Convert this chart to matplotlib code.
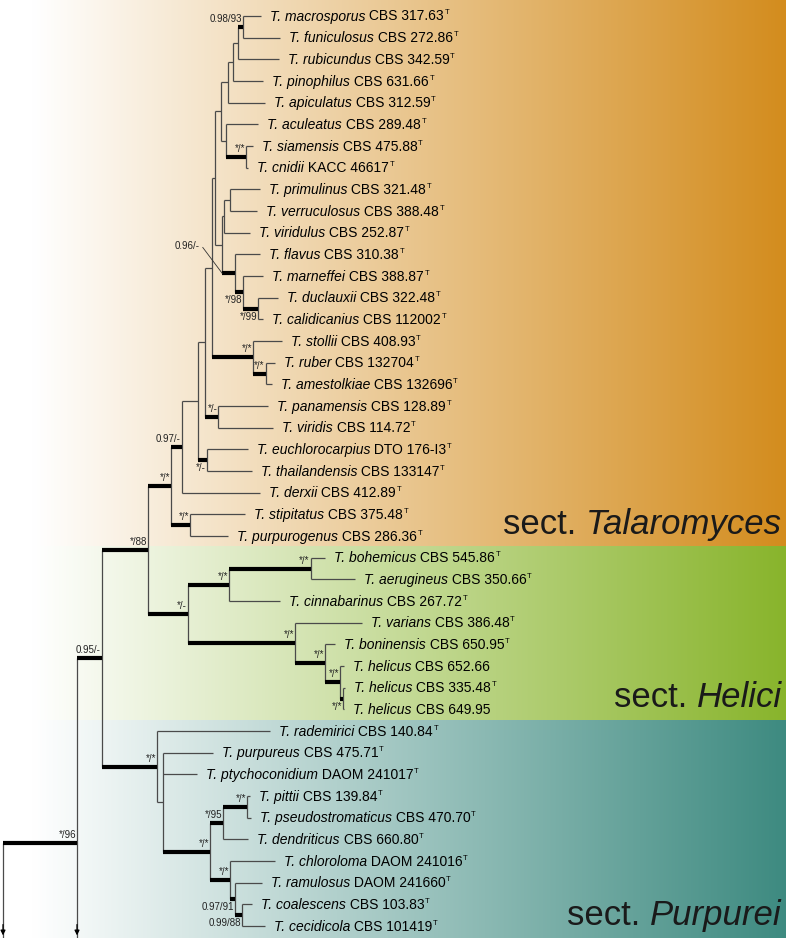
import matplotlib
matplotlib.use("Agg")
import matplotlib.pyplot as plt
import numpy as np
from matplotlib import transforms

plt.rcParams['font.family'] = ['Liberation Sans', 'DejaVu Sans']

# ---------------- data ----------------
species = [
    "T. macrosporus", "T. funiculosus", "T. rubicundus", "T. pinophilus", "T. apiculatus",
    "T. aculeatus", "T. siamensis", "T. cnidii", "T. primulinus", "T. verruculosus",
    "T. viridulus", "T. flavus", "T. marneffei", "T. duclauxii", "T. calidicanius",
    "T. stollii", "T. ruber", "T. amestolkiae", "T. panamensis", "T. viridis",
    "T. euchlorocarpius", "T. thailandensis", "T. derxii", "T. stipitatus", "T. purpurogenus",
    "T. bohemicus", "T. aerugineus", "T. cinnabarinus", "T. varians", "T. boninensis",
    "T. helicus", "T. helicus", "T. helicus",
    "T. rademirici", "T. purpureus", "T. ptychoconidium", "T. pittii", "T. pseudostromaticus",
    "T. dendriticus", "T. chloroloma", "T. ramulosus", "T. coalescens", "T. cecidicola"]
strains = [
    "CBS 317.63", "CBS 272.86", "CBS 342.59", "CBS 631.66", "CBS 312.59",
    "CBS 289.48", "CBS 475.88", "KACC 46617", "CBS 321.48", "CBS 388.48",
    "CBS 252.87", "CBS 310.38", "CBS 388.87", "CBS 322.48", "CBS 112002",
    "CBS 408.93", "CBS 132704", "CBS 132696", "CBS 128.89", "CBS 114.72",
    "DTO 176-I3", "CBS 133147", "CBS 412.89", "CBS 375.48", "CBS 286.36",
    "CBS 545.86", "CBS 350.66", "CBS 267.72", "CBS 386.48", "CBS 650.95",
    "CBS 652.66", "CBS 335.48", "CBS 649.95",
    "CBS 140.84", "CBS 475.71", "DAOM 241017", "CBS 139.84", "CBS 470.70",
    "CBS 660.80", "DAOM 241016", "DAOM 241660", "CBS 103.83", "CBS 101419"]
type_strain = [1] * 30 + [0, 1, 0] + [1] * 10

# truncated outgroup lineages (rows below the visible tips)
outgroup_rows = {"og1": 46.7, "og2": 60.0}

# internal nodes: name, children, branch lengths to the children
clades = [
    ("MF", ["t0", "t1"], [17.7, 36.7]),
    ("M1", ["MF", "t2"], [5.6, 41.0]),
    ("M2", ["M1", "t3"], [5.0, 30.6]),
    ("M3", ["M2", "t4"], [4.4, 36.7]),
    ("SC", ["t6", "t7"], [6.7, 2.3]),
    ("N", ["t5", "SC"], [32.6, 20.3]),
    ("M4", ["M3", "N"], [7.3, 4.7]),
    ("PV", ["t8", "t9"], [30.0, 27.0]),
    ("P1", ["PV", "t10"], [6.3, 26.3]),
    ("R", ["t13", "t14"], [19.4, 4.7]),
    ("Q", ["t12", "R"], [20.0, 15.0]),
    ("F1", ["t11", "Q"], [25.0, 8.3]),
    ("P2", ["P1", "F1"], [2.0, 13.3]),
    ("M5", ["M4", "P2"], [6.5, 7.2]),
    ("RA", ["t16", "t17"], [9.3, 6.0]),
    ("J", ["t15", "RA"], [28.7, 12.7]),
    ("S1", ["M5", "J"], [2.8, 41.3]),
    ("K", ["t18", "t19"], [50.0, 55.0]),
    ("H", ["S1", "K"], [6.7, 13.3]),
    ("I", ["t20", "t21"], [41.3, 45.0]),
    ("G", ["H", "I"], [7.3, 9.0]),
    ("E", ["G", "t22"], [16.0, 78.3]),
    ("F", ["t23", "t24"], [55.0, 38.0]),
    ("D", ["E", "F"], [10.7, 19.0]),
    ("V", ["t25", "t26"], [14.3, 44.3]),
    ("T", ["V", "t27"], [81.7, 51.0]),
    ("Y", ["t31", "t32"], [1.5, 1.0]),
    ("X", ["t30", "Y"], [4.0, 3.3]),
    ("W", ["t29", "X"], [10.0, 15.0]),
    ("U", ["t28", "W"], [66.7, 30.0]),
    ("Hc", ["T", "U"], [41.0, 107.0]),
    ("C", ["D", "Hc"], [23.0, 40.0]),
    ("AD", ["t36", "t37"], [2.7, 3.7]),
    ("AB", ["AD", "t38"], [24.0, 25.0]),
    ("AF", ["t41", "t42"], [10.0, 23.3]),
    ("AE", ["t40", "AF"], [26.7, 6.7]),
    ("AC", ["t39", "AE"], [45.0, 5.0]),
    ("AA", ["AB", "AC"], [13.3, 20.0]),
    ("Z", ["t34", "t35", "AA"], [50.0, 33.4, 46.7]),
    ("Pu", ["t33", "Z"], [113.0, 6.3]),
    ("B", ["C", "Pu"], [46.0, 55.0]),
    ("A", ["B", "og1"], [25.0, 0.0]),
    ("root", ["A", "og2"], [74.0, 0.0]),
]

# support values (PP/BS) and where they sit relative to the node
support = {
    "MF": "0.98/93", "SC": "*/*", "F1": "0.96/-", "Q": "*/98", "R": "*/99",
    "J": "*/*", "RA": "*/*", "K": "*/-", "I": "*/-", "E": "0.97/-", "D": "*/*",
    "F": "*/*", "C": "*/88", "Hc": "*/-", "T": "*/*", "V": "*/*", "U": "*/*",
    "W": "*/*", "X": "*/*", "Y": "*/*", "B": "0.95/-", "A": "*/96", "Pu": "*/*",
    "AA": "*/*", "AB": "*/95", "AD": "*/*", "AC": "*/*", "AE": "0.97/91",
    "AF": "0.99/88"}
support_below = ["Q", "R", "I", "Y", "AE", "AF"]
support_leader = ["F1"]

sections = ["Talaromyces", "Helici", "Purpurei"]
section_rows = [(0, 24), (25, 32), (33, 42)]
section_colors = ["#D38C1D", "#88B42B", "#3D8A80"]

# ---------------- layout ----------------
W, H = 786, 938
fig = plt.figure(figsize=(W / 100, H / 100), dpi=100)
ax = fig.add_axes([0, 0, 1, 1])
row_px = 21.67
top_px = 16.0
x0_px = 3.0
ax.set_xlim(-x0_px, W - x0_px)
ax.set_ylim((H - top_px) / row_px, -top_px / row_px)
ax.axis("off")

# ---------------- tree geometry ----------------
children = {c[0]: c[1] for c in clades}
blen = {}
for name, ch, ln in clades:
    for c, l in zip(ch, ln):
        blen[c] = l

X, Y = {}, {}


def place(node, x):
    X[node] = x
    if node in children:
        ys = [place(c, x + blen[c]) for c in children[node]]
        Y[node] = (ys[0] + ys[-1]) / 2.0
    elif node in outgroup_rows:
        Y[node] = outgroup_rows[node]
    else:
        Y[node] = float(int(node[1:]))
    return Y[node]


place("root", 0.0)
parent = {c: p for p, ch, _ in clades for c in ch}

# ---------------- background bands ----------------
xs = np.linspace(-x0_px, W - x0_px, 400)
frac = np.clip((xs - 30) / (W - 30), 0, 1)
row_edges = []
for k, (r0, r1) in enumerate(section_rows):
    lo = r0 - 0.5 if k > 0 else -top_px / row_px
    hi = r1 + 0.5 if k < len(section_rows) - 1 else (H - top_px) / row_px
    col = np.array(matplotlib.colors.to_rgb(section_colors[k]))
    grad = 1 - frac[:, None] * (1 - col[None, :])
    ax.imshow(grad[None, :, :], extent=(-x0_px, W - x0_px, hi, lo),
              aspect="auto", zorder=0, interpolation="bilinear")
    row_edges.append((lo, hi))
ax.set_xlim(-x0_px, W - x0_px)
ax.set_ylim((H - top_px) / row_px, -top_px / row_px)

# ---------------- branches ----------------
thin_c = "#4a4a4a"
for node in X:
    if node == "root":
        continue
    p = parent[node]
    if X[node] > X[p]:
        thick = node in support
        ax.plot([X[p], X[node]], [Y[node], Y[node]],
                color="black" if thick else thin_c,
                lw=3.0 if thick else 0.9, solid_capstyle="butt", zorder=3)
for node, ch, _ in clades:
    ys = [Y[c] for c in ch]
    ax.plot([X[node], X[node]], [min(ys), max(ys)], color=thin_c, lw=0.9,
            solid_capstyle="butt", zorder=2)

# truncated outgroup arrows
ybot = (H - top_px) / row_px - 0.12
for node in ["root", "A"]:
    ax.annotate("", xy=(X[node], ybot), xytext=(X[node], ybot - 0.5),
                arrowprops=dict(arrowstyle="-|>", color="black", lw=0.9,
                                mutation_scale=7, shrinkA=0, shrinkB=0),
                zorder=4)

# ---------------- support labels ----------------
for node, txt in support.items():
    if node in support_leader:
        tr = transforms.offset_copy(ax.transData, fig=fig, x=-22, y=27, units="dots")
        ax.text(X[parent[node]], Y[node], txt, transform=tr, ha="right",
                va="center", fontsize=7, color="#222222", zorder=5)
        ax.annotate("", xy=(X[parent[node]] + 0.5, Y[node]),
                    xytext=(X[parent[node]] - 19, Y[node] - 26 / row_px),
                    arrowprops=dict(arrowstyle="-", color="#333333", lw=0.6,
                                    shrinkA=0, shrinkB=0))
        continue
    if node in support_below:
        tr = transforms.offset_copy(ax.transData, fig=fig, x=-1, y=-3, units="dots")
        va = "top"
    else:
        tr = transforms.offset_copy(ax.transData, fig=fig, x=-1, y=3, units="dots")
        va = "bottom"
    ax.text(X[node], Y[node], txt, transform=tr, ha="right", va=va,
            fontsize=7, color="#222222", zorder=5)

# ---------------- tip labels ----------------
fig.canvas.draw()
rend = fig.canvas.get_renderer()
inv = ax.transData.inverted()
FS = 10
for i, (sp, st, ty) in enumerate(zip(species, strains, type_strain)):
    node = "t%d" % i
    base = transforms.offset_copy(ax.transData, fig=fig, x=9, y=-4.5, units="dots")
    t1 = ax.text(X[node], Y[node], sp, style="italic", fontsize=FS,
                 transform=base, ha="left", va="baseline", zorder=5)
    bb = t1.get_window_extent(rend)
    xd = inv.transform((bb.x1, 0))[0]
    base2 = transforms.offset_copy(ax.transData, fig=fig, x=0, y=-4.5, units="dots")
    t2 = ax.text(xd, Y[node], " " + st, fontsize=FS, transform=base2,
                 ha="left", va="baseline", zorder=5)
    if ty:
        bb2 = t2.get_window_extent(rend)
        xd2 = inv.transform((bb2.x1, 0))[0]
        base3 = transforms.offset_copy(ax.transData, fig=fig, x=0.5, y=1.5, units="dots")
        ax.text(xd2, Y[node], "T", fontsize=5.5, transform=base3,
                ha="left", va="baseline", zorder=5)

# ---------------- section labels ----------------
fig.canvas.draw()
for k, name in enumerate(sections):
    lo, hi = row_edges[k]
    tr = transforms.offset_copy(ax.transData, fig=fig, x=0, y=13, units="dots")
    tsect = ax.text(W - x0_px - 4, hi, "sect. ", fontsize=25, transform=tr,
                    ha="right", va="baseline", color="#1a1a1a", zorder=5)
    tn = ax.text(W - x0_px - 4, hi, name, fontsize=25, style="italic",
                 transform=tr, ha="right", va="baseline", color="#1a1a1a", zorder=5)
    bbn = tn.get_window_extent(rend)
    tsect.set_x(inv.transform((bbn.x0, 0))[0])

fig.savefig("out.png", dpi=100)
